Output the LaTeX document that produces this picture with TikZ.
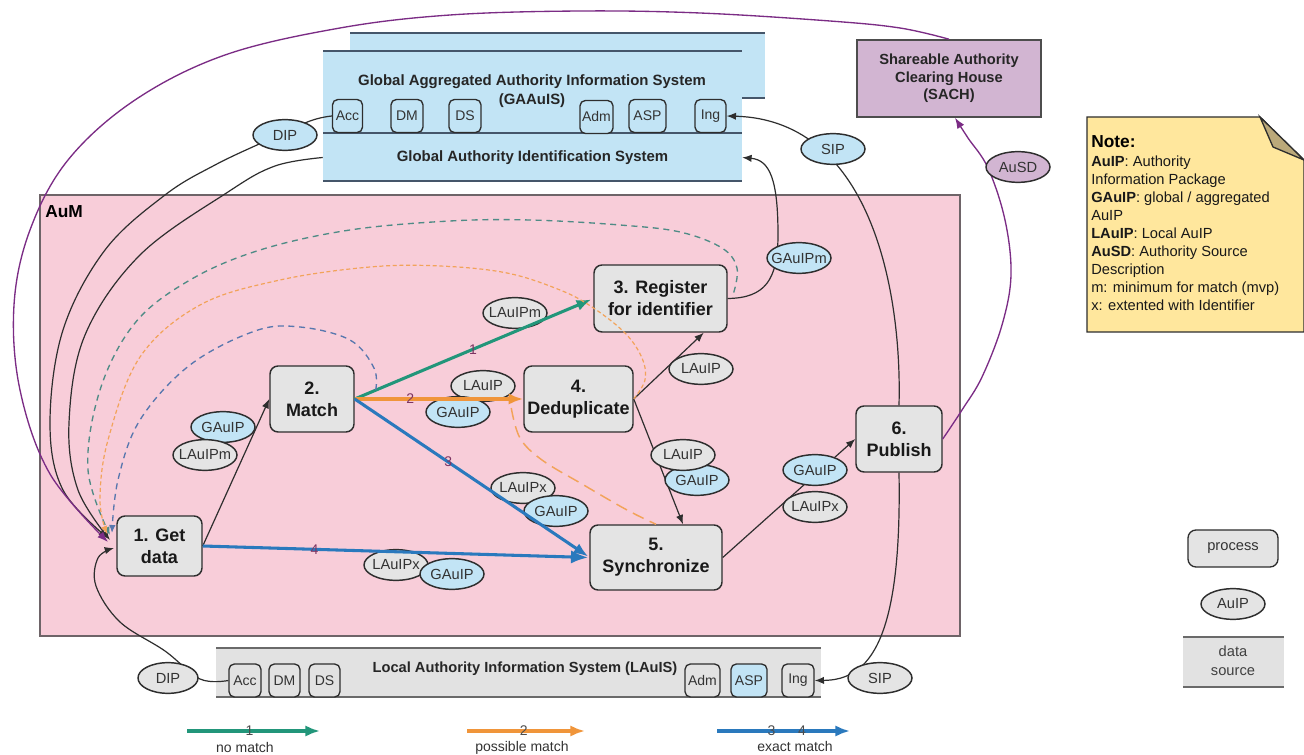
\documentclass[tikz,border=0pt]{standalone}
\usepackage{fontspec}
\setmainfont{Liberation Sans}
\usetikzlibrary{arrows.meta,calc,shapes.geometric}

\definecolor{aumpink}{HTML}{F8CDD9}
\definecolor{aumline}{HTML}{6E6468}
\definecolor{sysblue}{HTML}{C2E4F5}
\definecolor{procgray}{HTML}{E4E4E4}
\definecolor{lgray}{HTML}{E2E2E2}
\definecolor{sachpurple}{HTML}{D2B5D2}
\definecolor{notey}{HTML}{FFE79D}
\definecolor{notefold}{HTML}{BBA97A}
\definecolor{mgreen}{HTML}{22967A}
\definecolor{morange}{HTML}{F0953A}
\definecolor{mblue}{HTML}{2A79BD}
\definecolor{mpurple}{HTML}{7B2C85}
\definecolor{numcol}{HTML}{7D3462}
\definecolor{dteal}{HTML}{4F8B86}
\definecolor{dorange}{HTML}{F2A35A}
\definecolor{dblue}{HTML}{5877AE}
\definecolor{edge}{HTML}{2E2E2E}
\definecolor{sysline}{HTML}{45566A}
\definecolor{dsline}{HTML}{6A6A6A}

\newcommand\pklabel[1]{\makebox[0pt]{#1}}

\begin{document}
\begin{tikzpicture}[x=0.75pt,y=-0.75pt,
  font=\fontsize{11}{13}\selectfont,
  proc/.style={draw=edge, line width=1.1pt, fill=procgray, rounded corners=6pt,
    align=center, inner sep=0pt, text=black!90,
    font=\bfseries\fontsize{13.5}{16.5}\selectfont},
  pk/.style={ellipse, draw=edge, line width=1.1pt, inner sep=0pt,
    minimum width=48pt, minimum height=23pt, text=black!80,
    font=\fontsize{11}{13}\selectfont},
  pkb/.style={pk, fill=sysblue},
  pkg/.style={pk, fill=procgray},
  sbox/.style={draw=edge, line width=1pt, rounded corners=4pt, inner sep=0pt,
    minimum height=24.75pt, text=black!80, font=\fontsize{10.5}{12}\selectfont},
  flow/.style={draw=edge, line width=0.9pt, -{Latex[length=7pt,width=5.5pt]}},
  cflow/.style={line width=2.3pt, -{Latex[length=11pt,width=8.5pt]}},
  num/.style={text=numcol, inner sep=0pt, font=\fontsize{10.5}{12}\selectfont},
  pflow/.style={draw=mpurple, line width=1pt, -{Latex[length=8pt,width=6pt]}},
  dtip/.style={-{Latex[length=6pt,width=5pt]}},
]
\useasboundingbox (0,0) rectangle (1304,755);
\fill[white] (0,0) rectangle (1304,755);

% ---------- AuM area ----------
\node[draw=aumline, line width=1.2pt, fill=aumpink, minimum width=690pt,
  minimum height=330.75pt, inner sep=0pt] (aum) at (500,415.5) {};
\node[anchor=west, inner sep=0pt, font=\bfseries\fontsize{13}{15}\selectfont] (aumlbl) at (45,212) {AuM};

% ---------- global systems ----------
\fill[sysblue] (350,33) rectangle (765,98);
\draw[sysline, line width=1.5pt] (350,33) -- (765,33) (742,98) -- (765,98);
\fill[sysblue] (323,51) rectangle (742,182);
\draw[sysline, line width=1.5pt] (323,51) -- (742,51) (323,133.5) -- (742,133.5) (323,181.5) -- (742,181.5);
\node[align=center, font=\bfseries\fontsize{11.2}{14}\selectfont, text=black!85] (gaauis) at (532,91)
  {Global Aggregated Authority Information System\\(GAAuIS)};
\node[minimum width=314.25pt, minimum height=35.25pt, inner sep=0pt,
  font=\bfseries\fontsize{11.2}{14}\selectfont, text=black!85] (gais) at (532.5,157.5)
  {Global Authority Identification System};
\node[sbox, fill=sysblue, minimum width=22.5pt] (gacc) at (347.5,116) {Acc};
\node[sbox, fill=sysblue, minimum width=24pt] (gdm) at (407,116) {DM};
\node[sbox, fill=sysblue, minimum width=24pt] (gds) at (465,116) {DS};
\node[sbox, fill=sysblue, minimum width=24.75pt] (gadm) at (596.5,117) {Adm};
\node[sbox, fill=sysblue, minimum width=27.75pt] (gasp) at (647.5,116) {ASP};
\node[sbox, fill=sysblue, minimum width=23.25pt] (ging) at (710.5,116) {Ing};

% ---------- local system ----------
\fill[lgray] (216,648) rectangle (821,697);
\draw[dsline, line width=1.3pt] (216,648) -- (821,648) (216,697) -- (821,697);
\node[font=\bfseries\fontsize{11}{13}\selectfont, text=black!85] (lauis) at (525,669)
  {Local Authority Information System (LAuIS)};
\node[sbox, fill=lgray, minimum width=24pt] (lacc) at (245,680.5) {Acc};
\node[sbox, fill=lgray, minimum width=23.25pt] (ldm) at (284.5,680.5) {DM};
\node[sbox, fill=lgray, minimum width=23.25pt] (lds) at (324.5,680.5) {DS};
\node[sbox, fill=lgray, minimum width=26.25pt] (ladm) at (702.5,680.5) {Adm};
\node[sbox, fill=sysblue, minimum width=27pt] (lasp) at (749,680.5) {ASP};
\node[sbox, fill=lgray, minimum width=24pt] (ling) at (798,680.5) {Ing};

% ---------- clearing house ----------
\node[draw=edge!85, line width=1.2pt, fill=sachpurple, minimum width=138pt,
  minimum height=57.75pt, align=center, inner sep=0pt, text=black!85,
  font=\bfseries\fontsize{11}{13}\selectfont] (sach) at (949,78.5)
  {Shareable Authority\\Clearing House\\(SACH)};

% ---------- note ----------
\draw[edge, line width=1pt, fill=notey] (1087,117) -- (1260,117) -- (1304,160) -- (1304,332) -- (1087,332) -- cycle;
\draw[edge, line width=1pt, fill=notefold] (1260,117) -- (1273,147) -- (1304,160) -- cycle;
\node[anchor=west, inner sep=0pt, font=\bfseries\fontsize{13}{15}\selectfont] (notehd) at (1091,142) {Note:};
\node[anchor=north west, align=left, inner sep=0pt, text=black!90,
  font=\fontsize{11}{13.5}\selectfont] (notetxt) at (1091,156)
  {\textbf{AuIP}: Authority\\Information Package\\\textbf{GAuIP}: global / aggregated\\AuIP\\
   \textbf{LAuIP}: Local AuIP\\\textbf{AuSD}: Authority Source\\Description\\
   m: minimum for match (mvp)\\x: extented with Identifier};

% ---------- legend (right) ----------
\node[draw=edge, line width=1pt, fill=procgray, rounded corners=6pt, minimum width=67.5pt,
  minimum height=27.75pt, inner sep=0pt, text=black!80] (lgproc) at (1233,548.5) {process};
\node[pkg] (lgpk) at (1233,604) {\pklabel{AuIP}};
\fill[lgray] (1183,637) rectangle (1284,687);
\draw[dsline, line width=1.3pt] (1183,637) -- (1284,637) (1183,687) -- (1284,687);
\node[align=center, font=\fontsize{11}{14}\selectfont, text=black!75] (lgds) at (1233,661) {data\\source};

% ---------- processes ----------
\node[proc, minimum width=63.75pt, minimum height=45pt] (gd) at (159.5,546) {1. Get\\data};
\node[proc, minimum width=63pt, minimum height=49.5pt] (match) at (312,399) {2.\\Match};
\node[proc, minimum width=99.75pt, minimum height=50.25pt] (reg) at (660.5,298.5) {3. Register\\for identifier};
\node[proc, minimum width=81.75pt, minimum height=49.5pt] (dedup) at (578.5,399) {4.\\Deduplicate};
\node[proc, minimum width=99pt, minimum height=48.75pt] (sync) at (656,557.5) {5.\\Synchronize};
\node[proc, minimum width=64.5pt, minimum height=49.5pt] (pub) at (899,439) {6.\\Publish};

% end points on the left of "Get data"
\coordinate (inpur) at (108,542);
\coordinate (indipt) at (108,538);
\coordinate (ingais) at (110,540);
\coordinate (indipb) at (114,548);
\coordinate (inteal) at (110,535);
\coordinate (inor) at (107,534);
\coordinate (inbl) at (112,533);
\coordinate (sachin) at ($(sach.south)+(6,0)$);
\coordinate (tealst) at ($(reg.east)+(6,-6)$);
\coordinate (blst) at ($(match.east)+(21,-9)$);
\coordinate (lost) at ($(dedup.west)+(-12,9)$);

% ---------- black data flows ----------
\draw[flow] (gd.east) -- (match.west);
\draw[flow] (dedup.east) -- ($(reg.south east)+(-24,0)$);
\draw[flow] (dedup.east) -- ($(sync.north)+(27,0)$);
\draw[flow] (sync.east) -- (pub.west);
\draw[flow] (reg.east) .. controls (765,298) and (778,280) .. (778,235)
  .. controls (778,180) and (770,160) .. (gais.east);
\draw[flow] (pub.north) .. controls (902,300) and (875,120) .. (ging.east);
\draw[flow] (pub.south) .. controls (902,640) and (870,680) .. (ling.east);
\draw[flow] plot[smooth, tension=0.6] coordinates {(gacc.west) (310,121) (268,140) (215,165) (165,195) (105,250) (63,330) (50,423) (63,490) (indipt)};
\draw[flow] plot[smooth, tension=0.6] coordinates {(gais.west) (275,166) (228,192) (140,255) (85,335) (69,423) (78,490) (ingais)};
\draw[flow] plot[smooth, tension=0.6] coordinates {(lacc.west) (200,679) (165,651) (120,622) (96,586) (98,558) (indipb)};

% ---------- purple flows ----------
\draw[pflow] plot[smooth, tension=0.6] coordinates {(sach.north) (900,28) (830,21) (700,13) (580,11) (450,15) (340,28) (225,55) (135,100) (68,160) (30,230) (14,305) (20,390) (50,474) (inpur)};
\draw[pflow] plot[smooth, tension=0.6] coordinates {(pub.east) (962,410) (982,377) (1002,325) (1011,275) (1005,220) (988,168) (968,138) (sachin)};

% ---------- information packages ----------
\node[pkb] (ga) at (223,427) {\pklabel{GAuIP}};
\node[pkg] (la) at (205,455) {\pklabel{LAuIPm}};
\node[pkg] (lb) at (515,313) {\pklabel{LAuIPm}};
\node[pkg] (lc) at (483,386) {\pklabel{LAuIP}};
\node[pkb] (gc) at (458,412) {\pklabel{GAuIP}};
\node[pkg] (ld) at (701,369) {\pklabel{LAuIP}};
\node[pkb] (ge) at (697,480) {\pklabel{GAuIP}};
\node[pkg] (le) at (683,455) {\pklabel{LAuIP}};
\node[pkg] (lf) at (523,488) {\pklabel{LAuIPx}};
\node[pkb] (gf) at (556,511) {\pklabel{GAuIP}};
\node[pkg] (lg) at (396,565) {\pklabel{LAuIPx}};
\node[pkb] (gg) at (452,574) {\pklabel{GAuIP}};
\node[pkg] (lh) at (815,507) {\pklabel{LAuIPx}};
\node[pkb] (gh) at (815,470) {\pklabel{GAuIP}};
\node[pkb] (gi) at (799,258) {\pklabel{GAuIPm}};
\node[pkb] (dipt) at (285,135) {\pklabel{DIP}};
\node[pkb] (sipt) at (833,149) {\pklabel{SIP}};
\node[pk, fill=sachpurple] (ausd) at (1018,167) {\pklabel{AuSD}};
\node[pkg, minimum width=45pt] (dipb) at (168,678) {\pklabel{DIP}};
\node[pkg] (sipb) at (880,678) {\pklabel{SIP}};

% ---------- match outcomes ----------
\draw[cflow, mgreen] (match.east) -- node[num, pos=0.5] {1} ($(reg.west)+(-2,1)$);
\draw[cflow, morange] (match.east) -- node[num, pos=0.33] {2} (dedup.west);
\draw[cflow, mblue] (match.east) -- node[num, pos=0.4] {3} ($(sync.west)+(-1,-1)$);
\draw[cflow, mblue, -{Latex[length=13pt,width=10pt]}] (gd.east) -- node[num, pos=0.29] {4} ($(sync.west)+(-1,0)$);

% ---------- loops back to data gathering ----------
\draw[dteal, line width=1pt, dash pattern=on 4.5pt off 3.5pt, dtip] plot[smooth, tension=0.6] coordinates {(tealst) (737,268) (722,248) (680,232) (620,225) (530,220) (450,221) (350,230) (260,250) (190,280) (135,323) (100,390) (88,470) (inteal)};
\draw[dorange, line width=0.9pt, dash pattern=on 3pt off 2pt, dtip] plot[smooth, tension=0.6] coordinates {(dedup.east) (645,380) (642,358) (625,333) (592,307) (560,290) (507,273) (440,266) (370,267) (280,280) (200,305) (140,357) (108,440) (100,500) (inor)};
\draw[dblue, line width=1pt, dash pattern=on 4.5pt off 3.5pt, dtip] plot[smooth, tension=0.6] coordinates {(blst) (374,368) (350,340) (300,327) (255,331) (190,365) (140,420) (118,480) (inbl)};
\draw[dorange, line width=1.1pt, dash pattern=on 9pt off 5pt] plot[smooth, tension=0.6] coordinates {(lost) (520,438) (542,460) (582,484) (627,510) (sync.north)};

% ---------- legend (bottom) ----------
\coordinate (lg1a) at (187,731); \coordinate (lg1b) at (320,731);
\coordinate (lg2a) at (467,731); \coordinate (lg2b) at (585,731);
\coordinate (lg3a) at (717,731); \coordinate (lg3b) at (850,731);
\draw[cflow, mgreen] (lg1a) -- node[num, pos=0.47, text=black!70] {1} (lg1b);
\draw[cflow, morange] (lg2a) -- node[num, pos=0.48, text=black!70] {2} (lg2b);
\draw[cflow, mblue] (lg3a) -- node[num, pos=0.41, text=black!70] {3} node[num, pos=0.64, text=black!70] {4} (lg3b);
\node[text=black!80, font=\fontsize{10.5}{12}\selectfont] (lgt1) at (245,747) {no match};
\node[text=black!80, font=\fontsize{10.5}{12}\selectfont] (lgt2) at (522,748) {possible match};
\node[text=black!80, font=\fontsize{10.5}{12}\selectfont] (lgt3) at (795,746) {exact match};
\end{tikzpicture}
\end{document}
